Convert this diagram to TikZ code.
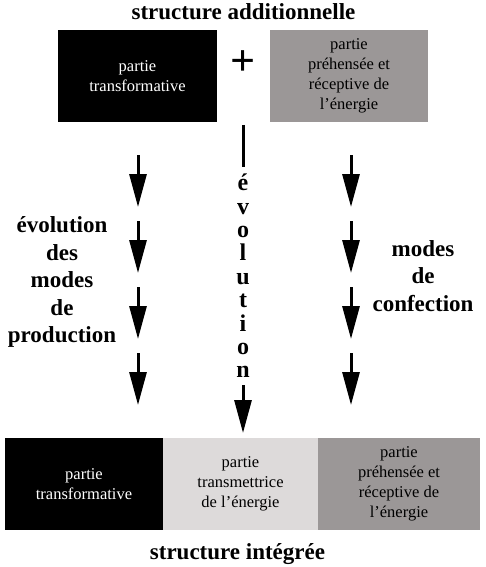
\documentclass[tikz,border=0pt]{standalone}
\usepackage{fontspec}
\setmainfont{Liberation Serif}
\usepackage{xcolor}
\usetikzlibrary{arrows.meta, positioning}
\definecolor{midgrey}{HTML}{9B9797}
\definecolor{palegrey}{HTML}{DDDADA}

\begin{document}
\begin{tikzpicture}[
    x=1pt, y=-1pt,
    part/.style={minimum height=92pt, inner sep=0pt, outer sep=0pt, align=center, font=\fontsize{16.5}{20}\selectfont},
    darkpart/.style={part, fill=black, text=white},
    greypart/.style={part, fill=midgrey},
    palepart/.style={part, fill=palegrey},
    title/.style={inner sep=0pt, font=\fontsize{23}{27}\selectfont\bfseries},
    sidelabel/.style={align=center, inner sep=0pt, font=\fontsize{23}{27.5}\selectfont\bfseries},
    vletters/.style={align=center, inner xsep=0pt, inner ysep=7pt, font=\fontsize{24}{23.4}\selectfont\bfseries},
    dnarrow/.style={-{Triangle[length=33pt, width=17pt]}, line width=3pt},
    vline/.style={line width=3pt}
]
\useasboundingbox (0,0) rectangle (485,567);

% Top row
\node[title, anchor=base] (toptitle) at (243.5,19.5) {structure additionnelle};
\node[darkpart, minimum width=159pt] (toptrans) at (137.5,76) {partie\\transformative};
\node[greypart, minimum width=158pt] (topgrip) at (349,76) {partie\\préhensée et\\réceptive de\\l’énergie};
\node[inner sep=0pt, font=\fontsize{44}{44}\selectfont\bfseries] (plus) at (243,63) {+};

% Bottom row
\node[darkpart, minimum width=158pt, anchor=north west] (bottrans) at (5,438) {partie\\transformative};
\node[palepart, minimum width=155pt, right=0pt of bottrans] (botmid) {partie\\transmettrice\\de l’énergie};
\node[greypart, minimum width=162pt, right=0pt of botmid] (botgrip) {partie\\préhensée et\\réceptive de\\l’énergie};
\node[title, anchor=base] (bottitle) at (237.5,559) {structure intégrée};

% Labels
\node[sidelabel] (prodlabel) at (62,282) {évolution\\des\\modes\\de\\production};
\node[sidelabel] (conflabel) at (423,276) {modes\\de\\confection};
\node[vletters] (evol) at (243,276) {é\\v\\o\\l\\u\\t\\i\\o\\n};

% Left arrows
\coordinate (l1) at (138,155); \coordinate (l1e) at (138,207);
\coordinate (l2) at (138,221); \coordinate (l2e) at (138,273);
\coordinate (l3) at (138,287); \coordinate (l3e) at (138,339);
\coordinate (l4) at (138,353); \coordinate (l4e) at (138,405);
\draw[dnarrow] (l1) -- (l1e);
\draw[dnarrow] (l2) -- (l2e);
\draw[dnarrow] (l3) -- (l3e);
\draw[dnarrow] (l4) -- (l4e);

% Right arrows
\coordinate (r1) at (351,155); \coordinate (r1e) at (351,207);
\coordinate (r2) at (351,221); \coordinate (r2e) at (351,273);
\coordinate (r3) at (351,287); \coordinate (r3e) at (351,339);
\coordinate (r4) at (351,353); \coordinate (r4e) at (351,405);
\draw[dnarrow] (r1) -- (r1e);
\draw[dnarrow] (r2) -- (r2e);
\draw[dnarrow] (r3) -- (r3e);
\draw[dnarrow] (r4) -- (r4e);

% Middle
\coordinate (vtop) at (243,125);
\draw[vline] (vtop) -- (evol.north);
\draw[dnarrow, shorten >=5pt] (evol.south) -- (evol.south |- botmid.north);

\end{tikzpicture}
\end{document}
